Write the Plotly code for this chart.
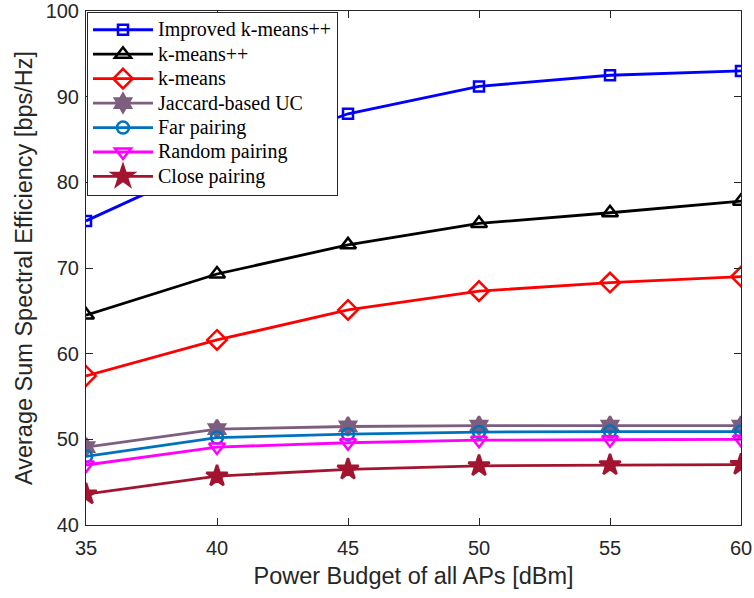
import plotly.graph_objects as go

# Transmit power budget (dBm)
power_dbm = [35, 40, 45, 50, 55, 60]

# Average sum spectral efficiency (bps/Hz) per scheme
improved_kmeanspp = [75.5, 82.5, 88.0, 91.2, 92.5, 93.0]
kmeanspp = [64.5, 69.3, 72.7, 75.2, 76.45, 77.8]
kmeans = [57.4, 61.6, 65.1, 67.3, 68.3, 69.0]
jaccard_uc = [49.1, 51.2, 51.5, 51.6, 51.6, 51.6]
far_pairing = [48.0, 50.2, 50.6, 50.85, 50.9, 50.9]
random_pairing = [47.0, 49.1, 49.6, 49.9, 49.95, 50.0]
close_pairing = [43.6, 45.7, 46.5, 46.9, 47.0, 47.05]

y_ticks = [40, 50, 60, 70, 80, 90, 100]

series = [
    ("Improved k-means++", improved_kmeanspp, "#0000FF", "square-open", 10),
    ("k-means++", kmeanspp, "#000000", "triangle-up-open", 14),
    ("k-means", kmeans, "#FF0000", "diamond-open", 15),
    ("Jaccard-based UC", jaccard_uc, "#7E5E7E", "hexagram", 14),
    ("Far pairing", far_pairing, "#0072BD", "circle-open", 12),
    ("Random pairing", random_pairing, "#FF00FF", "triangle-down-open", 14),
    ("Close pairing", close_pairing, "#A2142F", "star", 16),
]

fig = go.Figure()
for name, vals, color, symbol, size in series:
    fig.add_trace(go.Scatter(
        x=power_dbm, y=vals,
        # larger legend text while keeping compact row spacing
        name=f'<span style="font-size:20px">{name}</span>',
        mode="lines+markers",
        line=dict(color=color, width=2.8),
        marker=dict(symbol=symbol, size=size, color=color,
                    line=dict(color=color, width=2.5)),
    ))

axis_common = dict(
    showgrid=False, zeroline=False, showline=True, mirror="ticks",
    linecolor="#262626", linewidth=1, ticks="inside", ticklen=7,
    tickcolor="#262626", ticklabeloverflow="allow", automargin=False,
    tickfont=dict(family="Liberation Sans, Arial", size=20, color="#262626"),
    title_font=dict(family="Liberation Sans, Arial", size=23.5, color="#262626"),
)

fig.update_layout(
    width=754, height=598,
    margin=dict(l=86, r=13, t=11, b=73),
    paper_bgcolor="white", plot_bgcolor="white",
    xaxis=dict(range=[35, 60], tickvals=power_dbm, title_text="Power Budget of all APs [dBm]",
               title_standoff=9, ticklabelstandoff=5, **axis_common),
    yaxis=dict(range=[40, 100], tickvals=y_ticks,
               title_text="Average Sum Spectral Efficiency [bps/Hz]", title_standoff=6,
               ticklabelstandoff=2, **axis_common),
    legend=dict(
        x=0.0015, y=0.999, xanchor="left", yanchor="top",
        bgcolor="white", bordercolor="#262626", borderwidth=1,
        font=dict(family="Liberation Serif, Times New Roman", size=16.5, color="black"),
        itemwidth=60, tracegroupgap=0,
    ),
)

fig.write_html("out.html")
